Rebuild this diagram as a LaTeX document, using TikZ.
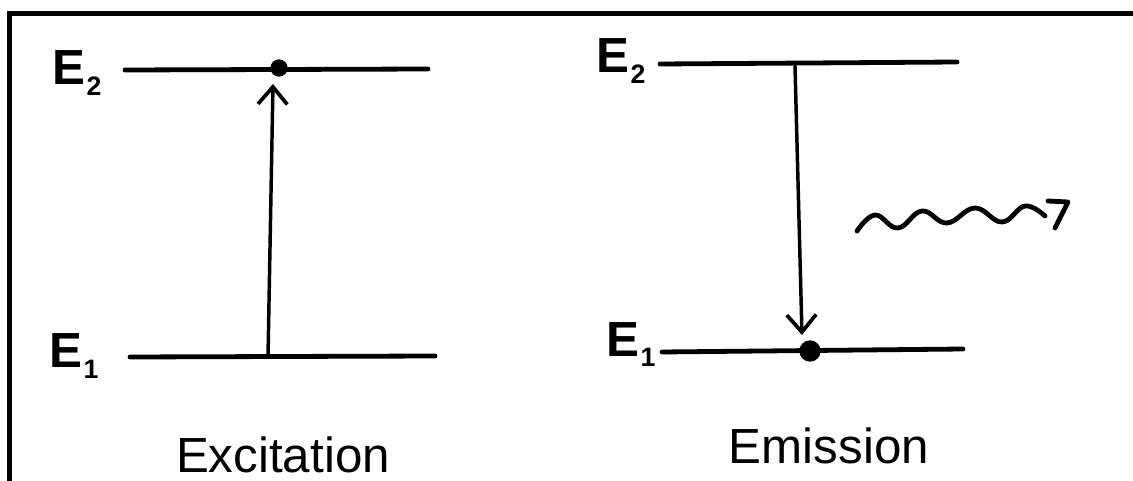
\documentclass[tikz,border=0pt]{standalone}
\usepackage{fontspec}
\setmainfont{Liberation Sans}
\usetikzlibrary{arrows.meta}
\newcommand\lvlab[1]{E\kern1pt\raisebox{-8pt}{\fontsize{20}{20}\selectfont #1}}
\begin{document}
\begin{tikzpicture}[x=0.75pt,y=-0.75pt,
  frame/.style={line width=3.8pt},
  level/.style={line width=3.6pt,line cap=round},
  arr/.style={line width=2.6pt,line cap=round,-{Straight Barb[length=13pt,width=22pt,line width=2.8pt]}},
  dot/.style={circle,fill=black,inner sep=0pt,minimum size=13pt},
  elab/.style={anchor=base west,inner sep=0pt,font=\bfseries\fontsize{37}{37}\selectfont},
  caption/.style={anchor=base,inner sep=0pt,font=\fontsize{37}{40}\selectfont},
  wave/.style={line width=3.6pt,line cap=round,line join=round}]
\useasboundingbox (0,0) rectangle (1133,481);
% frame
\coordinate (fTL) at (9.5,13.5);
\coordinate (fTR) at (1133,13.5);
\coordinate (fBL) at (9.5,481);
\draw[frame] (fTR) -- (fTL) -- (fBL);
% ---------- Excitation ----------
\node[elab] (lE2) at (52,85) {\lvlab{2}};
\node[elab] (lE1) at (49,368) {\lvlab{1}};
\coordinate (L2a) at (125,70); \coordinate (L2b) at (428,69);
\coordinate (L1a) at (130,357); \coordinate (L1b) at (435,356);
\draw[level] (L2a) -- (L2b);
\draw[level] (L1a) -- (L1b);
\node[dot] (dotL) at (279,68) {};
\coordinate (upS) at (268,357);
\coordinate (upT) at (273,84);
\draw[arr] (upS) -- (upT);
\node[caption] (capL) at (283,472) {Excitation};
% ---------- Emission ----------
\node[elab] (rE2) at (596,73) {\lvlab{2}};
\node[elab] (rE1) at (606,356) {\lvlab{1}};
\coordinate (R2a) at (660,64); \coordinate (R2b) at (957,62);
\coordinate (R1a) at (662,352); \coordinate (R1b) at (963,349);
\draw[level] (R2a) -- (R2b);
\draw[level] (R1a) -- (R1b);
\coordinate (dnS) at (795,66);
\coordinate (dnT) at (802,335);
\draw[arr] (dnS) -- (dnT);
\node[dot,minimum size=16pt] (dotR) at (810,351) {};
\node[caption] (capR) at (829,463) {Emission};
% photon
\coordinate (wS) at (857,231);
\coordinate (wE) at (1045,216);
\draw[wave] plot[smooth,tension=0.7] coordinates {(wS) (875,215) (898,228) (922,211) (947,223) (975,208) (1002,222) (1025,206) (wE)};
\coordinate (h1) at (1048,201);
\coordinate (h2) at (1068,202);
\coordinate (h3) at (1055,228);
\draw[wave] (h1) -- (h2) -- (h3);
\end{tikzpicture}
\end{document}
